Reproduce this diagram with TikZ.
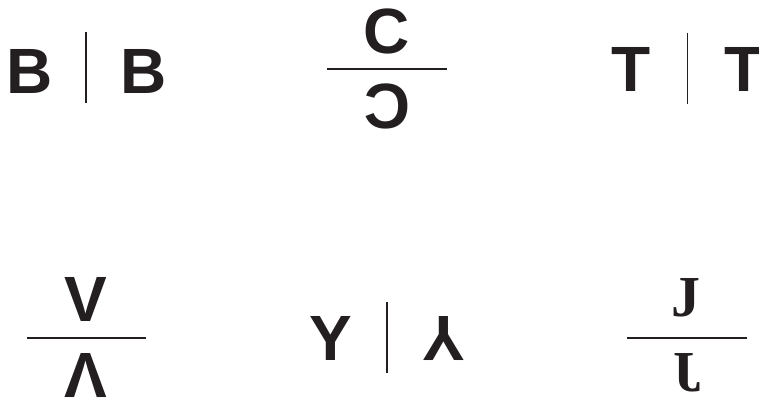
\documentclass[tikz,border=0pt]{standalone}
\usepackage{fontspec}
\setmainfont{Liberation Sans}
\newfontfamily\serifbold{Liberation Serif}
\usepackage{graphicx}
\usetikzlibrary{positioning}
\definecolor{ink}{HTML}{231F20}
\newcommand{\flipv}[1]{\scalebox{1}[-1]{#1}}
\newcommand{\fliph}[1]{\scalebox{-1}[1]{#1}}

\begin{document}
\begin{tikzpicture}[
  x=1pt, y=-1pt,
  letter/.style={inner sep=0pt, text=ink, font=\fontsize{64}{64}\selectfont\bfseries},
  serifletter/.style={inner sep=0pt, text=ink, font=\fontsize{58}{58}\selectfont\serifbold\bfseries},
  mirror/.style={draw=ink, line width=1.4pt}
]
\useasboundingbox (0,0) rectangle (759,401);
% top row
\node[letter] (b1) at (29.5,71) {B};
\node[letter] (b2) at (143.5,71) {B};
\coordinate (mb1) at (86,32);
\coordinate (mb2) at (86,103);
\draw[mirror] (mb1) -- (mb2);
\node[letter] (c1) at (387,31.5) {C};
\node[letter] (c2) at (387,106.5) {\fliph{C}};
\coordinate (mc1) at (327,69);
\coordinate (mc2) at (447,69);
\draw[mirror] (mc1) -- (mc2);
\node[letter] (t1) at (631,69.5) {T};
\node[letter] (t2) at (744,69.5) {T};
\coordinate (mt1) at (687.5,33);
\coordinate (mt2) at (687.5,104);
\draw[mirror] (mt1) -- (mt2);
% bottom row
\node[letter] (v1) at (86,299.5) {V};
\node[letter] (v2) at (86,375.5) {\flipv{V}};
\coordinate (mv1) at (27,338);
\coordinate (mv2) at (146,338);
\draw[mirror] (mv1) -- (mv2);
\node[letter] (y1) at (331,338.5) {Y};
\node[letter] (y2) at (443.5,338.5) {\flipv{Y}};
\coordinate (my1) at (387,302);
\coordinate (my2) at (387,373);
\draw[mirror] (my1) -- (my2);
\node[serifletter] (j1) at (686,297.5) {J};
\node[serifletter] (j2) at (688,372.5) {\fliph{J}};
\coordinate (mj1) at (627,338);
\coordinate (mj2) at (747,338);
\draw[mirror] (mj1) -- (mj2);
\end{tikzpicture}
\end{document}
